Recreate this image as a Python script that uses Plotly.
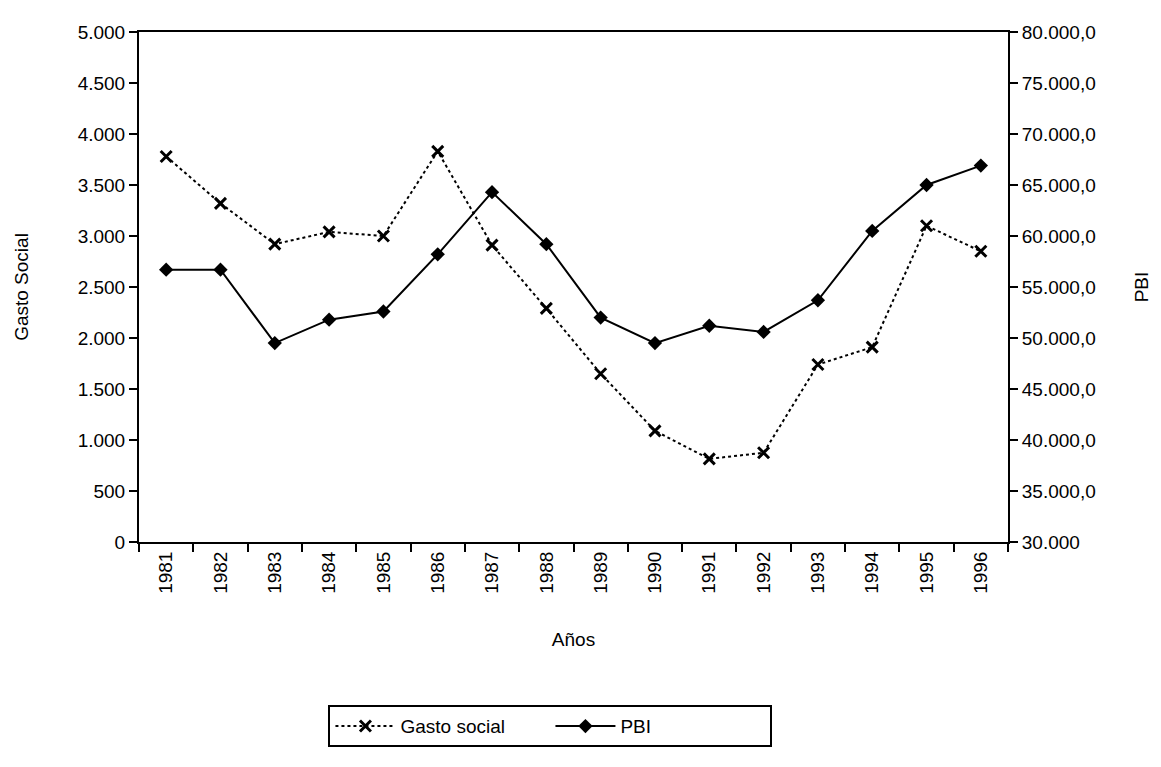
import plotly.graph_objects as go

years = [str(y) for y in range(1981, 1997)]
gasto_social = [3780, 3320, 2920, 3040, 3000, 3830, 2910, 2290,
                1650, 1090, 815, 875, 1740, 1910, 3100, 2850]
pbi = [56700, 56700, 49500, 51800, 52600, 58200, 64300, 59200,
       52000, 49500, 51200, 50600, 53700, 60500, 65000, 66900]

left_tickvals = [0, 500, 1000, 1500, 2000, 2500, 3000, 3500, 4000, 4500, 5000]
left_ticktext = ["0", "500", "1.000", "1.500", "2.000", "2.500", "3.000",
                 "3.500", "4.000", "4.500", "5.000"]
right_tickvals = [30000, 35000, 40000, 45000, 50000, 55000, 60000,
                  65000, 70000, 75000, 80000]
right_ticktext = ["30.000", "35.000,0", "40.000,0", "45.000,0", "50.000,0",
                  "55.000,0", "60.000,0", "65.000,0", "70.000,0", "75.000,0",
                  "80.000,0"]

FONT = "Liberation Sans, Arial, sans-serif"
FS = 19

fig = go.Figure()
fig.add_trace(go.Scatter(
    x=years, y=gasto_social, name="Gasto social", mode="lines+markers",
    line=dict(color="black", width=2, dash="dot"),
    marker=dict(symbol="x-thin", size=11, color="black",
                line=dict(color="black", width=3)),
    yaxis="y"))
fig.add_trace(go.Scatter(
    x=years, y=pbi, name="PBI", mode="lines+markers",
    line=dict(color="black", width=2),
    marker=dict(symbol="diamond", size=11, color="black"),
    yaxis="y2"))

axis_common = dict(showgrid=False, zeroline=False, showline=True,
                   linecolor="black", linewidth=2, ticks="outside",
                   ticklen=8, tickwidth=2, tickcolor="black",
                   tickfont=dict(family=FONT, size=FS, color="black"))

fig.update_layout(
    width=1153, height=759,
    margin=dict(l=126, r=141, t=24, b=225),
    paper_bgcolor="white", plot_bgcolor="white",
    font=dict(family=FONT, size=FS, color="black"),
    xaxis=dict(type="category", range=[-0.5, 15.5], tickangle=-90,
               tickson="boundaries", mirror=True,
               title=dict(text="Años", font=dict(size=FS), standoff=40),
               **axis_common),
    yaxis=dict(range=[0, 5000], tickvals=left_tickvals,
               ticktext=left_ticktext,
               title=dict(text="Gasto Social", font=dict(size=FS), standoff=44),
               **axis_common),
    yaxis2=dict(range=[30000, 80000], tickvals=right_tickvals,
                ticktext=right_ticktext, overlaying="y", side="right",
                title=dict(text="PBI", font=dict(size=FS), standoff=40),
                **axis_common),
    showlegend=True,
    legend=dict(orientation="h", x=0.218, y=-0.32, xanchor="left",
                yanchor="top", bordercolor="black", borderwidth=2,
                bgcolor="white", entrywidth=145,
                itemwidth=60,
                font=dict(family=FONT, size=FS, color="black")),
)

fig.write_html("out.html")
